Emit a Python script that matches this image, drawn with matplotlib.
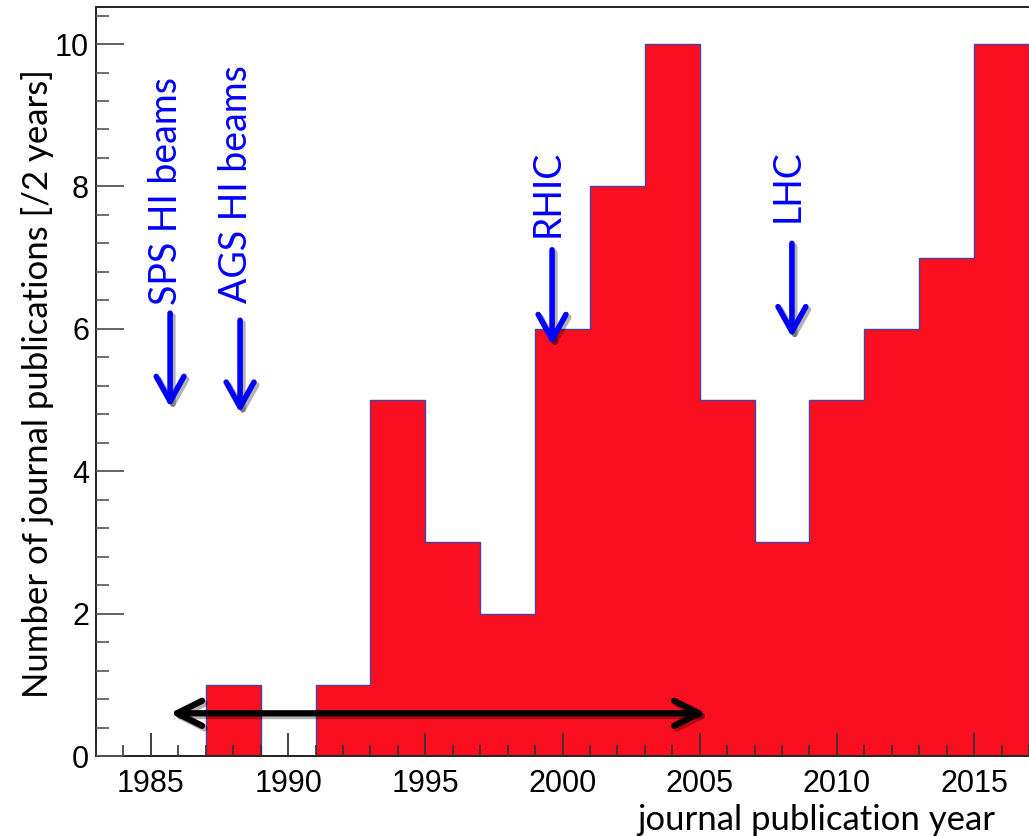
import numpy as np
import matplotlib.pyplot as plt
import matplotlib.patheffects as pe
from matplotlib.ticker import MultipleLocator

# publications per 2-year bin
bin_edges = np.arange(1983, 2019, 2)
counts = [0, 0, 1, 0, 1, 5, 3, 2, 6, 8, 10, 5, 3, 5, 6, 7, 10]

# facility start markers: (label, year, text bottom, arrow start, arrow tip)
markers = [
    ("SPS HI beams", 1985.70, 6.33, 6.22, 4.90),
    ("AGS HI beams", 1988.25, 6.36, 6.12, 4.82),
    ("RHIC", 1999.62, 7.29, 7.11, 5.77),
    ("LHC", 2008.36, 7.50, 7.20, 5.88),
]
span_years = (1985.70, 2005.23)
span_level = 0.60

TEXT_FONT = ["Lato", "DejaVu Sans"]
TICK_FONT = ["Liberation Sans", "DejaVu Sans"]

fig = plt.figure(figsize=(10.29, 8.36), dpi=100)
ax = fig.add_axes([96 / 1029, 1 - 756 / 836, 1 - 96 / 1029, (756 - 7) / 836])

ax.stairs(counts, bin_edges, fill=True, color="#f90f20", zorder=1)
ax.stairs(counts, bin_edges, fill=False, color="#4444a8", lw=1.0, zorder=1.5)

ax.set_xlim(1983, 2017)
ax.set_ylim(0, 10.52)
ax.set_axisbelow(False)

ax.spines["right"].set_visible(False)
for s in ("left", "bottom", "top"):
    ax.spines[s].set_linewidth(1.4)
    ax.spines[s].set_color("#222222")

ax.xaxis.set_major_locator(MultipleLocator(5))
ax.xaxis.set_minor_locator(MultipleLocator(1))
ax.yaxis.set_major_locator(MultipleLocator(2))
ax.yaxis.set_minor_locator(MultipleLocator(0.4))
ax.tick_params(axis="x", which="major", direction="in", length=16.5, width=1.3,
               color="#333333", pad=9, labelsize=22)
ax.tick_params(axis="x", which="minor", direction="in", length=8, width=1.2,
               color="#333333")
ax.tick_params(axis="y", which="major", direction="in", length=20, width=1.3,
               color="#555555", pad=5, labelsize=22)
ax.tick_params(axis="y", which="minor", direction="in", length=9.5, width=1.2,
               color="#555555")
for lab in ax.get_xticklabels() + ax.get_yticklabels():
    lab.set_family(TICK_FONT)

# soft drop shadow under the arrow strokes
line_shadow = [pe.SimpleLineShadow(offset=(2, -2), alpha=0.3, shadow_color="black"),
               pe.Normal()]

for label, x, ytxt, y0, y1 in markers:
    ax.text(x - 0.15, ytxt, label, rotation=90, ha="center", va="bottom",
            color="#0000ff", fontsize=27, family=TEXT_FONT, zorder=5)
    ax.annotate("", xy=(x, y1), xytext=(x, y0), zorder=5,
                arrowprops=dict(arrowstyle="->,head_length=0.9,head_width=0.5",
                                mutation_scale=20, lw=4, color="#0000ff",
                                capstyle="round", joinstyle="round",
                                shrinkA=0, shrinkB=0,
                                path_effects=line_shadow))

ax.annotate("", xy=(span_years[1], span_level), xytext=(span_years[0], span_level),
            zorder=5,
            arrowprops=dict(arrowstyle="<->,head_length=0.9,head_width=0.45",
                            mutation_scale=20, lw=4.5, color="black",
                            capstyle="round", joinstyle="round",
                            shrinkA=0, shrinkB=0,
                            path_effects=line_shadow))

fig.text(38 / 1029, 1 - 384 / 836, "Number of journal publications [/2 years]",
         rotation=90, ha="center", va="center", fontsize=25, family=TEXT_FONT)
fig.text(995 / 1029, 1 - 830 / 836, "journal publication year",
         ha="right", va="baseline", fontsize=25, family=TEXT_FONT)

fig.savefig("out.png", dpi=100)
